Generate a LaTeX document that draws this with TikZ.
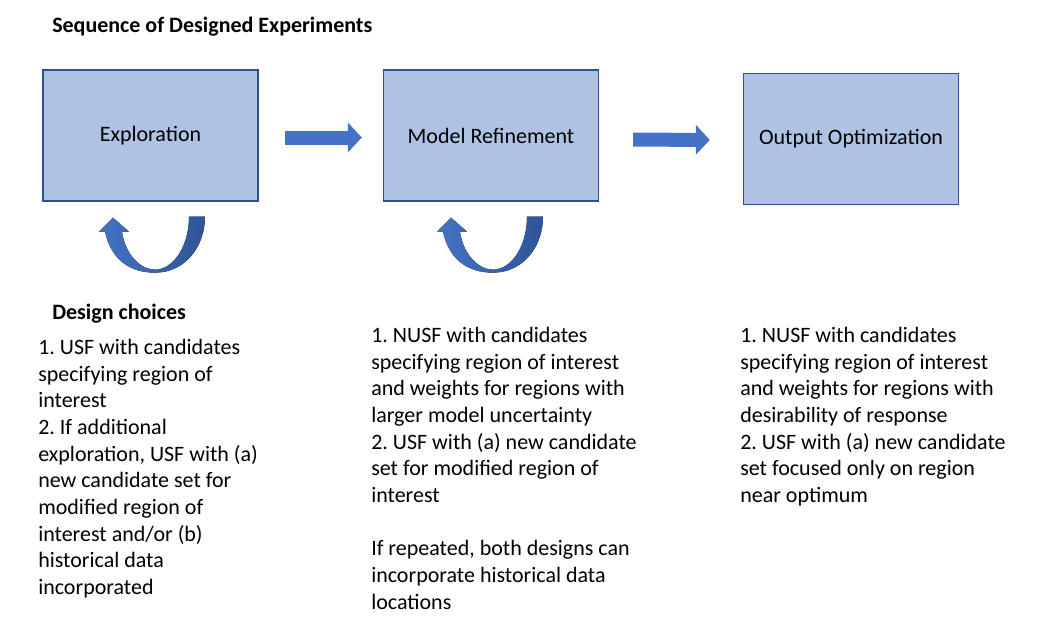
\documentclass[tikz,border=0pt]{standalone}
\usepackage{fontspec}
\setmainfont{Carlito}
\frenchspacing
\usetikzlibrary{calc, arrows.meta}

\definecolor{boxfill}{HTML}{B0C2E4}
\definecolor{boxline}{HTML}{2F528F}
\definecolor{arrowblue}{HTML}{4472C4}
\definecolor{arrowdark}{HTML}{2F5597}

\tikzset{
	stage/.style = {draw = boxline, line width = 1pt, fill = boxfill, minimum width = 161.25pt, minimum height = 98.25pt, font = \fontsize{16.5}{20}\selectfont},
	notes/.style = {anchor = north west, inner sep = 0pt, align = left, font = \fontsize{16.5}{20}\selectfont},
	heading/.style = {notes, font = \fontsize{16.5}{20}\selectfont\bfseries},
	bigarrow/.style = {arrowblue, line width = 10.5pt, -{Triangle[width = 21.75pt, length = 10.5pt]}},
	uturn/.pic = {
		\fill [left color = arrowblue, right color = arrowdark] (-50,-40) .. controls (-44,-12) and (-25,1) .. (0,1) .. controls (30,1) and (50,-25) .. (50,-55) -- (34,-55) .. controls (34,-25) and (18,-2) .. (0,-2) .. controls (-15,-2) and (-30,-18) .. (-33,-40) -- (-26,-40) -- (-42,-54) -- (-56,-40) -- cycle;
	}
}

\begin{document}
\begin{tikzpicture}[x = 0.75pt, y = -0.75pt]
	\useasboundingbox (0,0) rectangle (1063,625);
	
	\node [heading] (title) at (52,17) {Sequence of Designed Experiments};
	
	\node [stage] (expl) at (150.5,135.5) {Exploration};
	\node [stage] (refine) at (491,135.5) {Model Refinement};
	\node [stage] (optim) at (851,139) {Output Optimization};
	
	\draw [bigarrow, shorten <= 19.5pt, shorten >= 15.75pt] ($(expl.east)+(0,2)$) -- ($(refine.west)+(0,2)$);
	\draw [bigarrow, shorten <= 25.5pt, shorten >= 24.75pt] ($(refine.east)+(0,4)$) -- ($(optim.west)+(0,1)$);
	
	\pic at ($(expl.south)+(4.5,70)$) {uturn};
	\pic at ($(refine.south)+(2,70)$) {uturn};
	
	\node [heading] (choices) at (52,304) {Design choices};
	\node [notes] (explnotes) at (38,339) {1. USF with candidates\\ specifying region of\\ interest\\ 2. If additional\\ exploration, USF with (a)\\ new candidate set for\\ modified region of\\ interest and/or (b)\\ historical data\\ incorporated};
	\node [notes] (refinenotes) at (371,327) {1. NUSF with candidates\\ specifying region of interest\\ and weights for regions with\\ larger model uncertainty\\ 2. USF with (a) new candidate\\ set for modified region of\\ interest\\[20pt] If repeated, both designs can\\ incorporate historical data\\ locations};
	\node [notes] (optimnotes) at (740,327) {1. NUSF with candidates\\ specifying region of interest\\ and weights for regions with\\ desirability of response\\ 2. USF with (a) new candidate\\ set focused only on region\\ near optimum};
\end{tikzpicture}
\end{document}
